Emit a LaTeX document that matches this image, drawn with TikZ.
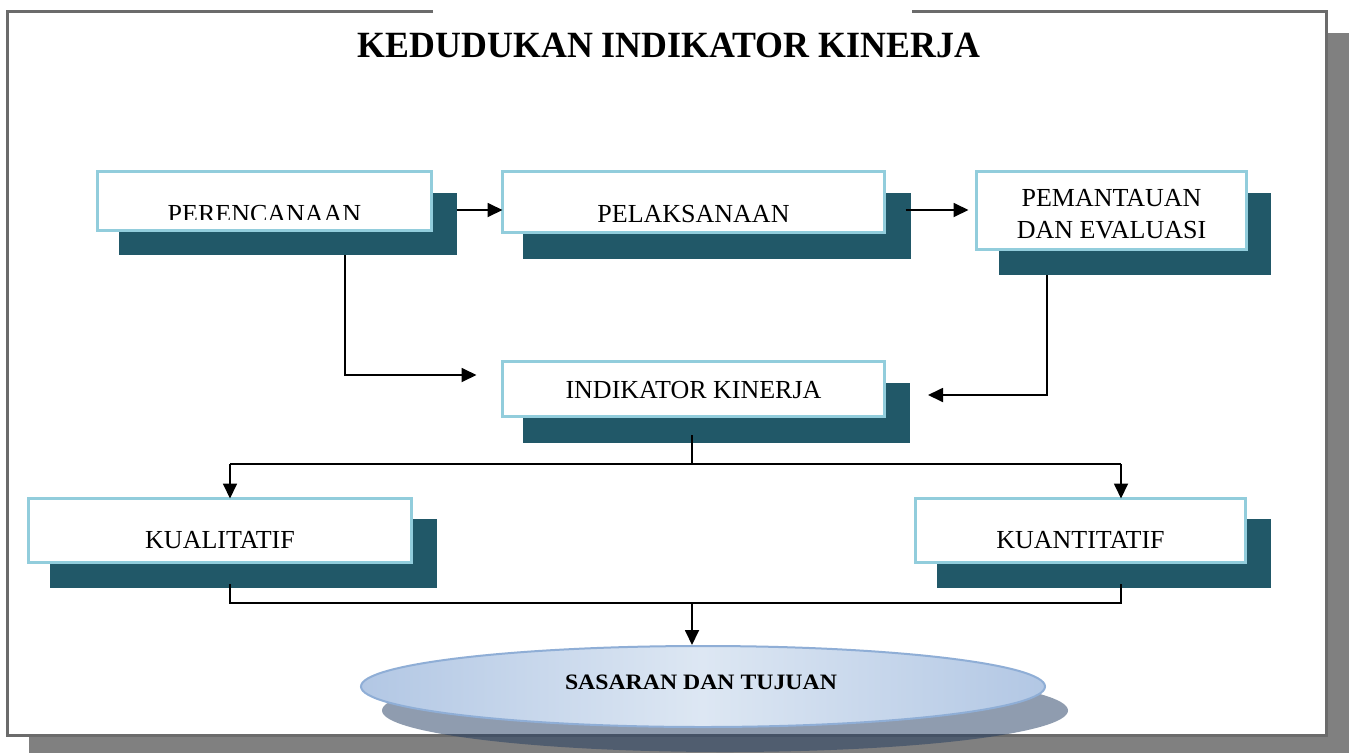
\documentclass[tikz,border=0pt]{standalone}
\usepackage{fontspec}
\setmainfont{Liberation Serif}
\usetikzlibrary{arrows.meta,shapes.geometric}

\definecolor{framegray}{RGB}{107,107,107}
\definecolor{shadegray}{RGB}{128,128,128}
\definecolor{boxline}{RGB}{146,205,220}
\definecolor{boxshade}{RGB}{33,88,104}
\definecolor{ellline}{RGB}{143,174,214}
\definecolor{ellin}{RGB}{221,231,243}
\definecolor{ellout}{RGB}{178,199,228}
\definecolor{ellshade}{RGB}{33,59,96}

\tikzset{
  shadebox/.style={rectangle, fill=boxshade, draw=none, inner sep=0pt, outer sep=0pt},
  frontbox/.style={rectangle, fill=white, draw=boxline, line width=3pt, inner sep=0pt, outer sep=0pt},
  boxtext/.style={anchor=base, inner sep=0pt, font=\fontsize{26}{30}\selectfont},
  conn/.style={line width=1.8pt, black},
  arr/.style={conn, -{Triangle[length=15pt,width=14pt]}},
}

\begin{document}
\begin{tikzpicture}[x=1pt,y=-1pt]
\useasboundingbox (0,0) rectangle (1349,753);

% page frame with its drop shadow
\fill[shadegray] (29,33) rectangle (1349,753);
\fill[white] (7.5,11.5) rectangle (1326.5,735.5);
\draw[framegray, line width=3pt, line join=miter]
  (433,11.5) -- (7.5,11.5) -- (7.5,735.5) -- (1326.5,735.5) -- (1326.5,11.5) -- (912,11.5);

% title
\node[anchor=base, inner sep=0pt] (title) at (669,57)
  {\resizebox{622pt}{\height}{\fontsize{37}{40}\selectfont\bfseries KEDUDUKAN INDIKATOR KINERJA}};

% boxes: shadow first, then the framed box
\node[shadebox, minimum width=338pt, minimum height=62pt] (per-s) at (287.5,224) {};
\node[frontbox, minimum width=334pt, minimum height=59pt] (per) at (264.5,201) {};
\begin{scope}
  \clip (96,180) rectangle (433,219.5);
  \node[boxtext] (per-t) at (264.5,222.5) {PERENCANAAN};
\end{scope}

\node[shadebox, minimum width=388pt, minimum height=66pt] (pel-s) at (716.5,225.5) {};
\node[frontbox, minimum width=382pt, minimum height=61pt] (pel) at (693.5,202) {};
\node[boxtext] (pel-t) at (693.5,222.5) {PELAKSANAAN};

\node[shadebox, minimum width=272pt, minimum height=82pt] (pem-s) at (1135,234) {};
\node[frontbox, minimum width=270pt, minimum height=78pt] (pem) at (1111.5,210.5) {};
\node[boxtext] (pem-t1) at (1111.5,206.5) {PEMANTAUAN};
\node[boxtext] (pem-t2) at (1111.5,238) {DAN EVALUASI};

\node[shadebox, minimum width=387pt, minimum height=60pt] (ind-s) at (716.5,413) {};
\node[frontbox, minimum width=382pt, minimum height=55pt] (ind) at (693.5,389) {};
\node[boxtext] (ind-t) at (693.5,398) {INDIKATOR KINERJA};

\node[shadebox, minimum width=387pt, minimum height=69pt] (kual-s) at (243.5,553.5) {};
\node[frontbox, minimum width=383pt, minimum height=64pt] (kual) at (220,530.5) {};
\node[boxtext] (kual-t) at (220,548) {KUALITATIF};

\node[shadebox, minimum width=334pt, minimum height=69pt] (kuan-s) at (1104,553.5) {};
\node[frontbox, minimum width=330pt, minimum height=64pt] (kuan) at (1080.5,530.5) {};
\node[boxtext] (kuan-t) at (1080.5,548) {KUANTITATIF};

% connectors
\coordinate (r1) at (0,210);
\draw[arr] (per-s.east |- r1) -- (pel.west |- r1);
\draw[arr] ([xshift=-5pt]pel-s.east |- r1) -- ([xshift=-8pt]pem.west |- r1);

\coordinate (c3) at (345,375);
\draw[arr] (c3 |- per-s.south) -- (c3) -- ([xshift=-26pt]ind.west |- c3);

\coordinate (c4) at (1047,395);
\draw[arr] (c4 |- pem-s.south) -- (c4) -- ([xshift=18pt]ind-s.east |- c4);

\coordinate (b1) at (692,464);
\coordinate (b2) at (230,464);
\coordinate (b3) at (1121,464);
\draw[conn] ([yshift=8pt]b1 |- ind-s.south) -- (b1);
\draw[conn] (b2) -- (b3);
\draw[arr] (b2) -- (b2 |- kual.north);
\draw[arr] (b3) -- (b3 |- kuan.north);

% goal ellipse with its shadow
\node[ellipse, fill=ellshade, fill opacity=0.5, draw=none, inner sep=0pt,
      minimum width=686pt, minimum height=83pt] (sas-s) at (725,710.5) {};
\node[ellipse, draw=ellline, line width=2pt, left color=ellout, right color=ellout,
      middle color=ellin, inner sep=0pt,
      minimum width=684pt, minimum height=81pt] (sas) at (703,686.5) {};
\node[anchor=base, inner sep=0pt] (sas-t) at (701,689)
  {\resizebox{272pt}{\height}{\fontsize{22}{24}\selectfont\bfseries SASARAN DAN TUJUAN}};

\coordinate (d1) at (692,603);
\coordinate (d2) at (230,603);
\coordinate (d3) at (1121,603);
\draw[conn] ([yshift=4pt]d2 |- kual-s.south) -- (d2) -- (d3) -- ([yshift=4pt]d3 |- kuan-s.south);
\draw[arr] (d1) -- (d1 |- sas.north);
\end{tikzpicture}
\end{document}
